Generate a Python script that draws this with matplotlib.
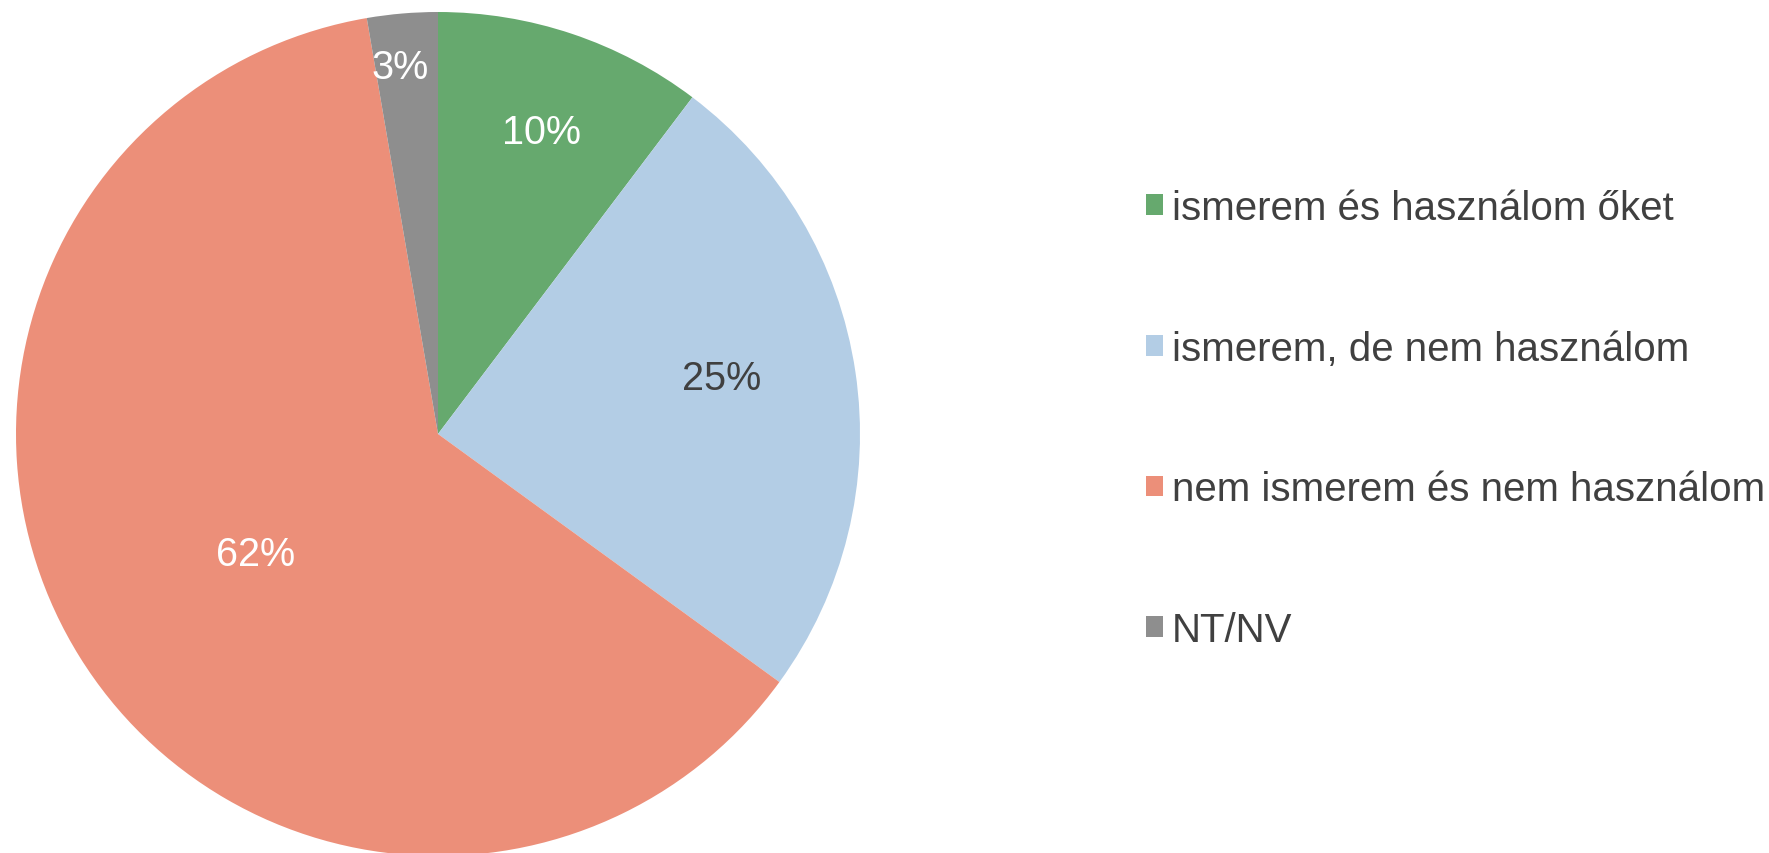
import matplotlib
matplotlib.use("Agg")
import matplotlib.pyplot as plt
import numpy as np
from matplotlib.patches import Patch

categories = ["ismerem és használom őket", "ismerem, de nem használom",
              "nem ismerem és nem használom", "NT/NV"]
values = [10.3, 24.7, 62.3, 2.7]
label_texts = ["10%", "25%", "62%", "3%"]

colors = ["#66A96E", "#B3CDE5", "#EC8F79", "#8E8E8E"]
label_colors = ["white", "#404040", "white", "white"]
label_radii = [0.77, 0.688, 0.51, 0.89]
label_angle_tweak = [0, 4, 0, 1]

plt.rcParams['font.family'] = ['Liberation Sans', 'DejaVu Sans']

W, H = 1769, 854
fig = plt.figure(figsize=(W / 100, H / 100), dpi=100)
cx, cy, r = 438, 435, 422
ax = fig.add_axes([(cx - r) / W, (H - cy - r) / H, 2 * r / W, 2 * r / H])
wedges, _ = ax.pie(values, colors=colors, startangle=90, counterclock=False,
                   radius=1, wedgeprops=dict(linewidth=0))
ax.set_xlim(-1, 1)
ax.set_ylim(-1, 1)
ax.set_aspect('equal')
ax.axis('off')

total = sum(values)
cum = 0
for v, txt, col, rf, tw in zip(values, label_texts, label_colors,
                               label_radii, label_angle_tweak):
    mid = (cum + v / 2) / total * 360
    cum += v
    ang = np.deg2rad(90 - mid + tw)
    ax.text(rf * np.cos(ang), rf * np.sin(ang) - 0.015, txt, color=col,
            fontsize=28.5, ha='center', va='center')

handles = [Patch(facecolor=c, edgecolor='none') for c in colors]
leg = fig.legend(handles, categories, loc='center left',
                 bbox_to_anchor=(1146 / W, 1 - 420 / H), frameon=False,
                 fontsize=29, labelspacing=2.55, handlelength=0.42,
                 handleheight=0.42, handletextpad=0.22, borderpad=0,
                 borderaxespad=0)
for t in leg.get_texts():
    t.set_color('#404040')

fig.savefig("out.png", dpi=100)
